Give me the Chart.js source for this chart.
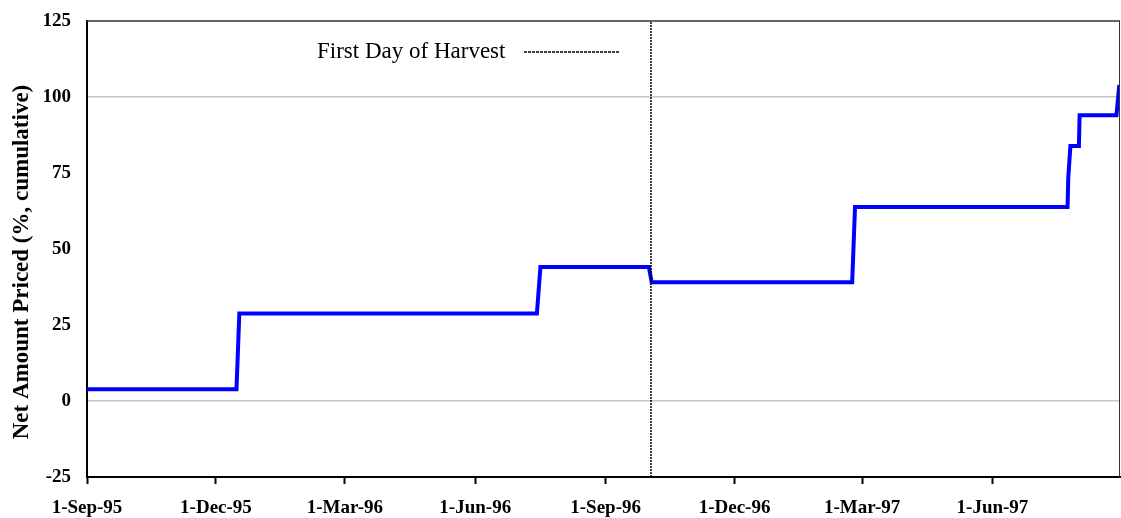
<!DOCTYPE html>
<html>
<head>
<meta charset="utf-8">
<script src="https://cdn.jsdelivr.net/npm/chart.js@4/dist/chart.umd.min.js"></script>
<style>
  html, body { margin: 0; padding: 0; background: #fff; }
</style>
</head>
<body>
<canvas id="chartA" width="1121" height="518"></canvas>
<script>
// days counted from 1-Sep-95
const tickDays = [0, 91, 182, 274, 366, 457, 547, 639];
const tickLabels = ['1-Sep-95', '1-Dec-95', '1-Mar-96', '1-Jun-96', '1-Sep-96', '1-Dec-96', '1-Mar-97', '1-Jun-97'];

// cumulative net amount priced
const pricedDays = [0, 105.5, 107.5, 317.5, 320, 396.5, 398.5, 540, 542, 692, 692.5, 694, 700, 700.5, 726.5, 728.5];
const pricedValues = [3.9, 3.9, 28.8, 28.8, 44.1, 44.1, 39.1, 39.1, 63.8, 63.8, 73.5, 83.9, 83.9, 94, 94, 104];

const harvestDay = 398; // 3-Oct-96
const yMin = -25;
const yMax = 125;
const yTitle = 'Net Amount Priced (%, cumulative)';

const serif = '"Liberation Serif", "Times New Roman", serif';

const data = {
    datasets: [{
        label: 'Net Amount Priced',
        data: pricedDays.map((d, i) => ({x: d, y: pricedValues[i]})),
        borderColor: '#0000ff',
        borderWidth: 4,
        pointRadius: 0,
        tension: 0,
        order: 1,
    }, {
        label: 'First Day of Harvest',
        data: [{x: harvestDay, y: yMin}, {x: harvestDay, y: yMax}],
        borderColor: '#000',
        borderWidth: 1.5,
        borderDash: [2, 1],
        pointRadius: 0,
        order: 0,
    }],
};

// legend sits inside the plot: text first, line sample after it
const harvestLegend = {
    id: 'harvestLegend',
    afterDraw(chart) {
        const {ctx, chartArea} = chart;
        const ds = chart.data.datasets[1];
        const x = chartArea.left + 230;
        const y = chartArea.top + 31;
        ctx.save();
        ctx.font = '23px ' + serif;
        ctx.fillStyle = '#000';
        ctx.textBaseline = 'middle';
        ctx.fillText(ds.label, x, y);
        ctx.strokeStyle = ds.borderColor;
        ctx.lineWidth = ds.borderWidth;
        ctx.setLineDash([3, 1]);
        ctx.beginPath();
        ctx.moveTo(x + 207, y);
        ctx.lineTo(x + 302, y);
        ctx.stroke();
        ctx.restore();
    },
};

// frame on top and right, plus the axis title (sits a little below centre, as in the original)
const plotFrame = {
    id: 'plotFrame',
    afterDatasetsDraw(chart) {
        const {ctx, chartArea} = chart;
        ctx.save();
        ctx.strokeStyle = '#333';
        ctx.lineWidth = 1.5;
        ctx.beginPath();
        ctx.moveTo(chartArea.left, chartArea.top);
        ctx.lineTo(chartArea.right, chartArea.top);
        ctx.stroke();
        ctx.lineWidth = 1;
        ctx.beginPath();
        ctx.moveTo(chartArea.right - 0.5, chartArea.top);
        ctx.lineTo(chartArea.right - 0.5, chartArea.bottom);
        ctx.stroke();
        ctx.restore();
    },
    afterDraw(chart) {
        const {ctx, chartArea} = chart;
        ctx.save();
        ctx.translate(22, (chartArea.top + chartArea.bottom) / 2 + 13);
        ctx.rotate(-Math.PI / 2);
        ctx.font = 'bold 23px ' + serif;
        ctx.fillStyle = '#000';
        ctx.textAlign = 'center';
        ctx.textBaseline = 'middle';
        ctx.fillText(yTitle, 0, 0);
        ctx.restore();
    },
};

const config = {
    type: 'line',
    data: data,
    options: {
        responsive: false,
        animation: false,
        devicePixelRatio: 1,
        layout: {padding: {top: 21, right: 1, left: 0, bottom: 0}},
        plugins: {
            legend: {display: false},
            tooltip: {enabled: false},
        },
        scales: {
            x: {
                type: 'linear',
                min: 0,
                max: 729,
                afterBuildTicks: (scale) => {
                    scale.ticks = tickDays.map(v => ({value: v}));
                },
                afterFit: (scale) => {
                    scale.height = 41;
                    scale.paddingLeft = 0;
                    scale.paddingRight = 0;
                },
                ticks: {
                    autoSkip: false,
                    maxRotation: 0,
                    padding: 13,
                    color: '#000',
                    font: {family: serif, size: 19, weight: 'bold'},
                    callback: (value) => tickLabels[tickDays.indexOf(value)],
                },
                grid: {
                    drawOnChartArea: false,
                    drawTicks: true,
                    tickLength: 7,
                    tickColor: '#000',
                    tickWidth: 2,
                },
                border: {color: '#000', width: 2},
            },
            y: {
                min: yMin,
                max: yMax,
                afterFit: (scale) => {
                    scale.width = 87;
                    scale.paddingTop = 0;
                    scale.paddingBottom = 0;
                },
                ticks: {
                    stepSize: 25,
                    padding: 16,
                    color: '#000',
                    font: {family: serif, size: 19, weight: 'bold'},
                },
                grid: {
                    drawTicks: false,
                    color: (c) => (c.tick && (c.tick.value === 0 || c.tick.value === 100)) ? '#c4c4c4' : 'rgba(0,0,0,0)',
                    lineWidth: 1.5,
                },
                border: {color: '#000', width: 2},
            },
        },
    },
    plugins: [harvestLegend, plotFrame],
};

const chartEle = document.getElementById('chartA').getContext('2d');
const chartA = new Chart(chartEle, config);
</script>
</body>
</html>
